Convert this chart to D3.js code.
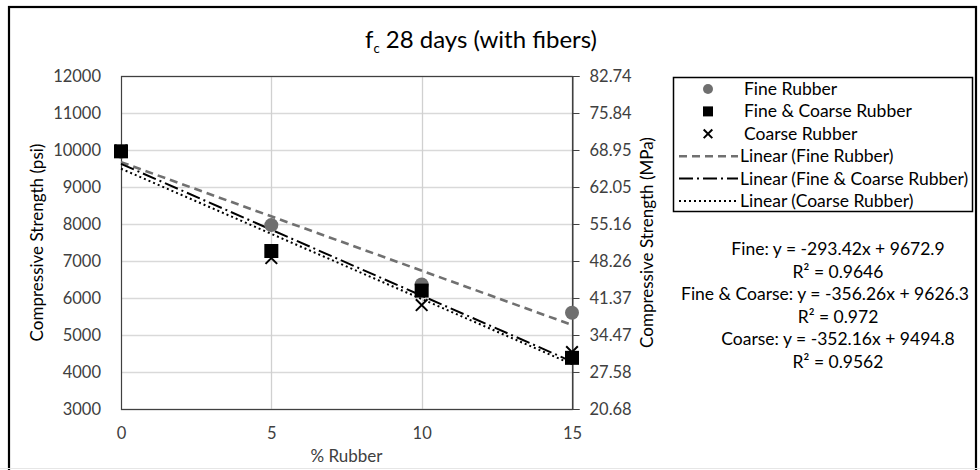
<!DOCTYPE html>
<html>
<head>
<meta charset="utf-8">
<script src="https://cdn.jsdelivr.net/npm/d3@7"></script>
<style>
  html, body { margin: 0; padding: 0; background: #fff; }
  svg text { font-family: Lato, "Open Sans", sans-serif; }
</style>
</head>
<body>
<svg id="chart" width="980" height="470"></svg>
<script>
// % rubber replacement
const rubberPct = [0, 5, 10, 15];

// Compressive strength (psi) by mix
const fineRubber = [9955, 7970, 6364, 5600];
const fineCoarseRubber = [9964, 7270, 6200, 4383];
const coarseRubber = [9985, 7080, 5810, 4539];

// Linear trend coefficients [slope, intercept]
const fineFit = [-293.42, 9672.9];
const fineCoarseFit = [-356.26, 9626.3];
const coarseFit = [-352.16, 9494.8];

// Axis ticks
const psiTicks = [3000, 4000, 5000, 6000, 7000, 8000, 9000, 10000, 11000, 12000];
const mpaTicks = [20.68, 27.58, 34.47, 41.37, 48.26, 55.16, 62.05, 68.95, 75.84, 82.74];
const xTicks = [0, 5, 10, 15];

// Equation annotations
const eqLines = [
  "Fine: y = -293.42x + 9672.9", "R² = 0.9646",
  "Fine & Coarse: y = -356.26x + 9626.3", "R² = 0.972",
  "Coarse: y = -352.16x + 9494.8", "R² = 0.9562"
];

const svg = d3.select("#chart");
const plot = { left: 121, right: 572, top: 76, bottom: 409 };

const x = d3.scaleLinear().domain([0, 15]).range([plot.left, plot.right]);
const y = d3.scaleLinear().domain([3000, 12000]).range([plot.bottom, plot.top]);
const y2 = d3.scaleLinear().domain([20.68, 82.74]).range([plot.bottom, plot.top]);

const textCol = "#404040";
const font = "Lato, sans-serif";

// outer frame
svg.append("rect").attr("x", 9).attr("y", 7).attr("width", 967).attr("height", 480)
  .attr("fill", "none").attr("stroke", "#000").attr("stroke-width", 2.2);
svg.append("line").attr("x1", 0).attr("x2", 980).attr("y1", 468.5).attr("y2", 468.5)
  .attr("stroke", "#e6e6e6").attr("stroke-width", 1);

// title
const title = svg.append("text").attr("x", 481).attr("y", 48).attr("text-anchor", "middle")
  .attr("font-size", 24).attr("fill", "#000");
title.append("tspan").text("f");
title.append("tspan").attr("font-size", 13).attr("dy", 5).text("c");
title.append("tspan").attr("dy", -5).text(" 28 days (with fibers)");

// gridlines
svg.append("g").selectAll("line").data(psiTicks).join("line")
  .attr("x1", plot.left).attr("x2", plot.right)
  .attr("y1", d => Math.round(y(d)) + 0.5).attr("y2", d => Math.round(y(d)) + 0.5)
  .attr("stroke", "#d9d9d9").attr("stroke-width", 1.3);
svg.append("g").selectAll("line").data(xTicks.slice(1, -1)).join("line")
  .attr("x1", d => Math.round(x(d)) + 0.5).attr("x2", d => Math.round(x(d)) + 0.5)
  .attr("y1", plot.top).attr("y2", plot.bottom)
  .attr("stroke", "#d0d0d0").attr("stroke-width", 1.3);

// plot border
svg.append("rect").attr("x", plot.left + 0.5).attr("y", plot.top + 0.5)
  .attr("width", plot.right - plot.left).attr("height", plot.bottom - plot.top)
  .attr("fill", "none").attr("stroke", "#404040").attr("stroke-width", 1.2);

// left axis
const yAxis = d3.axisLeft(y).tickValues(psiTicks).tickSize(0).tickPadding(20)
  .tickFormat(d3.format("d"));
const gy = svg.append("g").attr("transform", `translate(${plot.left},0)`).call(yAxis);
gy.select(".domain").remove();
gy.selectAll("text").attr("font-size", 16.5).attr("fill", textCol).attr("font-family", font);

// right axis
const y2Axis = d3.axisRight(y2).tickValues(mpaTicks).tickSize(7).tickPadding(10)
  .tickFormat(d3.format(".2f"));
const gy2 = svg.append("g").attr("transform", `translate(${plot.right + 0.5},0)`).call(y2Axis);
gy2.select(".domain").attr("stroke", "#404040");
gy2.selectAll("line").attr("stroke", "#404040");
gy2.selectAll("text").attr("font-size", 16.5).attr("fill", textCol).attr("font-family", font);

// bottom axis
const xAxis = d3.axisBottom(x).tickValues(xTicks).tickSize(0).tickPadding(18);
const gx = svg.append("g").attr("transform", `translate(0,${plot.bottom})`).call(xAxis);
gx.select(".domain").remove();
gx.selectAll("text").attr("font-size", 16.5).attr("fill", textCol).attr("font-family", font);

// axis titles
svg.append("text").attr("x", (plot.left + plot.right) / 2).attr("y", 462)
  .attr("text-anchor", "middle").attr("font-size", 17).attr("fill", textCol).text("% Rubber");
svg.append("text").attr("transform", `translate(43,${(plot.top + plot.bottom) / 2}) rotate(-90)`)
  .attr("text-anchor", "middle").attr("font-size", 17).attr("fill", "#000")
  .text("Compressive Strength (psi)");
svg.append("text").attr("transform", `translate(653,${(plot.top + plot.bottom) / 2}) rotate(-90)`)
  .attr("text-anchor", "middle").attr("font-size", 17).attr("fill", "#000")
  .text("Compressive Strength (MPa)");

// trend lines
const trendStyles = [
  { fit: fineFit, stroke: "#707070", width: 2.6, dash: "8,5" },
  { fit: fineCoarseFit, stroke: "#000", width: 2, dash: "14,4,2,4" },
  { fit: coarseFit, stroke: "#000", width: 2, dash: "2,3" }
];
const line = d3.line().x(d => x(d[0])).y(d => y(d[1]));
trendStyles.forEach(t => {
  const pts = [0, 15].map(v => [v, t.fit[0] * v + t.fit[1]]);
  svg.append("path").attr("d", line(pts)).attr("fill", "none")
    .attr("stroke", t.stroke).attr("stroke-width", t.width).attr("stroke-dasharray", t.dash);
});

// markers
const markers = svg.append("g");
markers.selectAll("circle").data(rubberPct.map((v, i) => [v, fineRubber[i]])).join("circle")
  .attr("cx", d => x(d[0])).attr("cy", d => y(d[1])).attr("r", 7).attr("fill", "#6f6f6f");
const sq = 14;
markers.selectAll("rect").data(rubberPct.map((v, i) => [v, fineCoarseRubber[i]])).join("rect")
  .attr("x", d => x(d[0]) - sq / 2).attr("y", d => y(d[1]) - sq / 2)
  .attr("width", sq).attr("height", sq).attr("fill", "#000");
const cross = d3.symbol().type(d3.symbolX).size(90);
markers.selectAll("path.cross").data(rubberPct.map((v, i) => [v, coarseRubber[i]])).join("path")
  .attr("class", "cross").attr("d", cross)
  .attr("transform", d => `translate(${x(d[0])},${y(d[1])})`)
  .attr("fill", "none").attr("stroke", "#000").attr("stroke-width", 2);

// legend
const legend = svg.append("g");
legend.append("rect").attr("x", 673.5).attr("y", 77.5).attr("width", 299).attr("height", 134)
  .attr("fill", "#fff").attr("stroke", "#000").attr("stroke-width", 1.5);
const legendItems = [
  { label: "Fine Rubber", kind: "circle" },
  { label: "Fine & Coarse Rubber", kind: "square" },
  { label: "Coarse Rubber", kind: "cross" },
  { label: "Linear (Fine Rubber)", kind: "line", style: trendStyles[0] },
  { label: "Linear (Fine & Coarse Rubber)", kind: "line", style: trendStyles[1] },
  { label: "Linear (Coarse Rubber)", kind: "line", style: trendStyles[2] }
];
legendItems.forEach((it, i) => {
  const cy = 89 + i * 22.4;
  const g = legend.append("g");
  if (it.kind === "circle") {
    g.append("circle").attr("cx", 708).attr("cy", cy).attr("r", 5).attr("fill", "#6f6f6f");
  } else if (it.kind === "square") {
    g.append("rect").attr("x", 703).attr("y", cy - 5).attr("width", 10).attr("height", 10).attr("fill", "#000");
  } else if (it.kind === "cross") {
    g.append("path").attr("d", d3.symbol().type(d3.symbolX).size(50)())
      .attr("transform", `translate(708,${cy})`).attr("fill", "none")
      .attr("stroke", "#000").attr("stroke-width", 2);
  } else {
    g.append("line").attr("x1", 679).attr("x2", 738).attr("y1", cy).attr("y2", cy)
      .attr("stroke", it.style.stroke).attr("stroke-width", it.style.width)
      .attr("stroke-dasharray", it.style.dash);
  }
  g.append("text").attr("x", it.kind === "line" ? 740 : 744).attr("y", cy + 6)
    .attr("font-size", 17.5).attr("fill", "#000").text(it.label);
});

// equation labels (the long Fine & Coarse line sits a little further left)
svg.append("g").selectAll("text").data(eqLines).join("text")
  .attr("x", (d, i) => i === 2 ? 825 : 838).attr("y", (d, i) => 255 + i * 22.5)
  .attr("text-anchor", "middle").attr("font-size", 17.5).attr("fill", "#000")
  .text(d => d);
</script>
</body>
</html>
